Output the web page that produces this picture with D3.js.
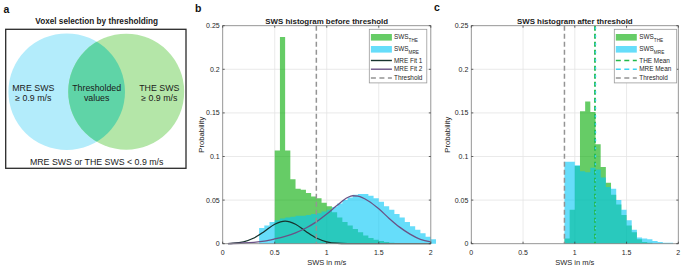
<!DOCTYPE html>
<html><head><meta charset="utf-8">
<script src="https://cdn.jsdelivr.net/npm/d3@7"></script>
<style>body{margin:0;background:#fff}svg{display:block;font-family:"Liberation Sans",Arial,sans-serif}</style>
</head><body><svg id="fig" width="685" height="268"></svg>
<script>
// ---------- data ----------
const binWidth = 0.05;
const threshold = 0.9;
const xTicks = [0, 0.5, 1, 1.5, 2];
const yTicks = [0, 0.05, 0.1, 0.15, 0.2, 0.25];
const xTickLabels = ["0", "0.5", "1", "1.5", "2"];
const yTickLabels = ["0", "0.05", "0.1", "0.15", "0.2", "0.25"];

// panel b: before threshold
const beforeTHEStart = 0.50;
const beforeTHE = [0.107, 0.237, 0.107, 0.074, 0.063, 0.062, 0.058, 0.054, 0.052, 0.047, 0.043,
  0.036, 0.030, 0.025, 0.021, 0.017, 0.013, 0.0095, 0.0065, 0.0045, 0.003, 0.002, 0.001];
const beforeMREStart = 0.35;
const beforeMRE = [0.018, 0.021, 0.025, 0.027, 0.029, 0.030, 0.031, 0.032, 0.032, 0.033, 0.034,
  0.035, 0.037, 0.039, 0.042, 0.046, 0.050, 0.053, 0.056, 0.057, 0.057, 0.055, 0.052, 0.048,
  0.043, 0.039, 0.034, 0.030, 0.025, 0.020, 0.016, 0.012, 0.008, 0.005];
const fit1X = [0.05, 0.1, 0.2, 0.3, 0.4, 0.5, 0.6, 0.7, 0.8, 0.9, 1.0, 1.1, 1.2, 1.3, 1.5, 2.0];
const fit1Y = [0.0002, 0.0005, 0.0022, 0.0065, 0.014, 0.0223, 0.026, 0.0223, 0.014, 0.0065, 0.0022, 0.0005, 0.0001, 0, 0, 0];
const fit2X = [0.05, 0.2, 0.3, 0.4, 0.5, 0.6, 0.7, 0.8, 0.9, 1.0, 1.1, 1.2, 1.25, 1.3, 1.4, 1.5, 1.6, 1.7, 1.8, 1.9, 2.0];
const fit2Y = [0.0002, 0.0008, 0.0016, 0.003, 0.0055, 0.0085, 0.0125, 0.018, 0.025, 0.034, 0.044, 0.053, 0.055, 0.0545, 0.049, 0.040, 0.029, 0.019, 0.011, 0.005, 0.002];

// panel c: after threshold
const afterStart = 0.90;
const afterTHE = [0.006, 0.039, 0.089, 0.152, 0.163, 0.151, 0.114, 0.088, 0.070, 0.056, 0.045,
  0.033, 0.021, 0.013, 0.005, 0.002, 0.001];
const afterMRE = [0.094, 0.094, 0.090, 0.083, 0.082, 0.087, 0.085, 0.076, 0.065, 0.063, 0.050,
  0.039, 0.027, 0.016, 0.007, 0.006, 0.005, 0.003, 0.002, 0.001, 0.001];
const theMean = 1.195;
const mreMean = 1.2;

// ---------- styles ----------
const C = {
  the: "rgb(0,170,0)", mre: "rgb(0,198,247)", alpha: 0.6,
  fit1: "#17332e", fit2: "#6a5286", thr: "#949494",
  theMean: "#22b94a", mreMean: "#3fd2f2",
  axis: "#8a8a8a", tick: "#3c3c3c", grid: "#e4e4e4", text: "#262626"
};

const svg = d3.select("#fig");

// ---------- panel labels ----------
svg.append("text").attr("x", 3.5).attr("y", 12.5).attr("font-size", 10.5).attr("font-weight", "bold").attr("fill", "#111").text("a");
svg.append("text").attr("x", 195).attr("y", 11.5).attr("font-size", 10.5).attr("font-weight", "bold").attr("fill", "#111").text("b");
svg.append("text").attr("x", 434).attr("y", 10.5).attr("font-size", 10.5).attr("font-weight", "bold").attr("fill", "#111").text("c");

// ---------- panel a: Venn ----------
const venn = svg.append("g");
venn.append("text").attr("x", 96.7).attr("y", 23.5).attr("text-anchor", "middle")
  .attr("font-size", 8.2).attr("font-weight", "bold").attr("fill", "#1a1a1a").text("Voxel selection by thresholding");
venn.append("rect").attr("x", 5.7).attr("y", 29.3).attr("width", 180.3).attr("height", 139)
  .attr("fill", "#fff").attr("stroke", "#2a2a2a").attr("stroke-width", 1.3);
const circA = {cx: 66.7, cy: 91.7, r: 58.3};
const circB = {cx: 126.2, cy: 91.7, r: 58};
venn.append("circle").attr("cx", circA.cx).attr("cy", circA.cy).attr("r", circA.r).attr("fill", "#b3ecfb");
venn.append("circle").attr("cx", circB.cx).attr("cy", circB.cy).attr("r", circB.r).attr("fill", "#b4e6a8");
svg.append("defs").append("clipPath").attr("id", "clipA").append("circle")
  .attr("cx", circA.cx).attr("cy", circA.cy).attr("r", circA.r);
venn.append("circle").attr("cx", circB.cx).attr("cy", circB.cy).attr("r", circB.r)
  .attr("fill", "#5fd4a7").attr("clip-path", "url(#clipA)");
const vtxt = [
  ["MRE SWS", 33.3, 91], ["\u2265 0.9 m/s", 33.3, 100.5],
  ["Thresholded", 96.7, 91], ["values", 96.7, 100.5],
  ["THE SWS", 159.3, 91], ["\u2265 0.9 m/s", 159.3, 100.5],
  ["MRE SWS or THE SWS < 0.9 m/s", 96.7, 165]
];
vtxt.forEach(([t, x, y]) => venn.append("text").attr("x", x).attr("y", y).attr("text-anchor", "middle")
  .attr("font-size", 8.8).attr("fill", "#1a1a1a").text(t));

// ---------- histogram panels ----------
function panel(opt) {
  const g = svg.append("g");
  const x = d3.scaleLinear().domain([0, 2]).range([opt.left, opt.right]);
  const y = d3.scaleLinear().domain([0, 0.25]).range([opt.bottom, opt.top]);
  g.selectAll(".gx").data(xTicks.slice(1, -1)).enter().append("line")
    .attr("x1", d => x(d)).attr("x2", d => x(d)).attr("y1", y(0)).attr("y2", y(0.25))
    .attr("stroke", C.grid).attr("stroke-width", 0.8);
  g.selectAll(".gy").data(yTicks.slice(1, -1)).enter().append("line")
    .attr("y1", d => y(d)).attr("y2", d => y(d)).attr("x1", x(0)).attr("x2", x(2))
    .attr("stroke", C.grid).attr("stroke-width", 0.8);

  const area = d3.area().curve(d3.curveStepAfter).x(d => x(d[0])).y0(y(0)).y1(d => y(d[1]));
  function bars(start, vals, color) {
    const pts = vals.map((v, i) => [start + i * binWidth, v]);
    pts.push([start + vals.length * binWidth, vals[vals.length - 1]]);
    g.append("path").attr("d", area(pts)).attr("fill", color).attr("fill-opacity", C.alpha);
  }
  opt.draw(g, x, y, bars);

  g.append("rect").attr("x", x(0)).attr("y", y(0.25)).attr("width", x(2) - x(0)).attr("height", y(0) - y(0.25))
    .attr("fill", "none").attr("stroke", C.axis).attr("stroke-width", 0.9);
  xTicks.forEach(t => {
    g.append("line").attr("x1", x(t)).attr("x2", x(t)).attr("y1", y(0)).attr("y2", y(0) - 2).attr("stroke", C.tick).attr("stroke-width", 0.8);
    g.append("line").attr("x1", x(t)).attr("x2", x(t)).attr("y1", y(0.25)).attr("y2", y(0.25) + 2).attr("stroke", C.tick).attr("stroke-width", 0.8);
  });
  yTicks.forEach(t => {
    g.append("line").attr("y1", y(t)).attr("y2", y(t)).attr("x1", x(0)).attr("x2", x(0) + 2).attr("stroke", C.tick).attr("stroke-width", 0.8);
    g.append("line").attr("y1", y(t)).attr("y2", y(t)).attr("x1", x(2)).attr("x2", x(2) - 2).attr("stroke", C.tick).attr("stroke-width", 0.8);
  });
  xTicks.forEach((t, i) => g.append("text").attr("x", x(t)).attr("y", y(0) + 11).attr("text-anchor", "middle")
    .attr("font-size", 7).attr("fill", C.text).text(xTickLabels[i]));
  yTicks.forEach((t, i) => g.append("text").attr("x", x(0) - 3).attr("y", y(t) + 2.5).attr("text-anchor", "end")
    .attr("font-size", 7).attr("fill", C.text).text(yTickLabels[i]));
  g.append("text").attr("x", (x(0) + x(2)) / 2).attr("y", 264.5).attr("text-anchor", "middle")
    .attr("font-size", 7.5).attr("fill", C.text).text("SWS in m/s");
  g.append("text").attr("transform", `translate(${opt.ylabX},${(y(0) + y(0.25)) / 2}) rotate(-90)`)
    .attr("text-anchor", "middle").attr("font-size", 7.7).attr("fill", C.text).text("Probability");
  g.append("text").attr("x", (x(0) + x(2)) / 2).attr("y", 23.5).attr("text-anchor", "middle")
    .attr("font-size", 7.9).attr("font-weight", "bold").attr("fill", "#1a1a1a").text(opt.title);

  const L = opt.legend;
  g.append("rect").attr("x", L.x0).attr("y", L.y0).attr("width", L.x1 - L.x0).attr("height", L.y1 - L.y0)
    .attr("fill", "#fff").attr("stroke", "#9a9a9a").attr("stroke-width", 0.8);
  L.items.forEach(it => {
    if (it.type === "patch") {
      g.append("rect").attr("x", L.sx).attr("y", it.y - 3.3).attr("width", L.sw).attr("height", 6.6)
        .attr("fill", it.color).attr("fill-opacity", C.alpha);
      const t = g.append("text").attr("x", L.tx).attr("y", it.y + 1.6).attr("font-size", 6.4).attr("fill", C.text);
      t.append("tspan").text("SWS");
      t.append("tspan").attr("font-size", 4.7).attr("dy", 2.8).text(it.sub);
    } else {
      g.append("line").attr("x1", L.sx).attr("x2", L.sx + L.sw).attr("y1", it.y).attr("y2", it.y)
        .attr("stroke", it.color).attr("stroke-width", it.w || 1.4).attr("stroke-dasharray", it.dash || null);
      g.append("text").attr("x", L.tx).attr("y", it.y + 2.2).attr("font-size", 6.4).attr("fill", C.text).text(it.label);
    }
  });
  return g;
}

const line = (x, y) => d3.line().curve(d3.curveMonotoneX).x(d => x(d[0])).y(d => y(d[1]));

panel({
  left: 222.7, right: 430.8, top: 25.7, bottom: 243.7, ylabX: 203.8,
  title: "SWS histogram before threshold",
  draw: (g, x, y, bars) => {
    bars(beforeTHEStart, beforeTHE, C.the);
    bars(beforeMREStart, beforeMRE, C.mre);
    g.append("path").attr("d", line(x, y)(fit1X.map((v, i) => [v, fit1Y[i]])))
      .attr("fill", "none").attr("stroke", C.fit1).attr("stroke-width", 1.3);
    g.append("path").attr("d", line(x, y)(fit2X.map((v, i) => [v, fit2Y[i]])))
      .attr("fill", "none").attr("stroke", C.fit2).attr("stroke-width", 1.3);
    g.append("line").attr("x1", x(threshold)).attr("x2", x(threshold)).attr("y1", y(0.25)).attr("y2", y(0))
      .attr("stroke", C.thr).attr("stroke-width", 1.5).attr("stroke-dasharray", "5,3");
  },
  legend: {
    x0: 369.3, x1: 426.8, y0: 29.3, y1: 82.9, sx: 370.9, sw: 21, tx: 394,
    items: [
      {type: "patch", y: 37.3, color: C.the, sub: "THE"},
      {type: "patch", y: 49.3, color: C.mre, sub: "MRE"},
      {type: "line", y: 60.5, color: C.fit1, label: "MRE Fit 1"},
      {type: "line", y: 69.2, color: C.fit2, label: "MRE Fit 2"},
      {type: "line", y: 78.0, color: C.thr, label: "Threshold", dash: "5,3.5"}
    ]
  }
});

panel({
  left: 471.3, right: 678.3, top: 25.7, bottom: 243.7, ylabX: 449.6,
  title: "SWS histogram after threshold",
  draw: (g, x, y, bars) => {
    bars(afterStart, afterTHE, C.the);
    bars(afterStart, afterMRE, C.mre);
    g.append("line").attr("x1", x(threshold)).attr("x2", x(threshold)).attr("y1", y(0.25)).attr("y2", y(0))
      .attr("stroke", C.thr).attr("stroke-width", 1.5).attr("stroke-dasharray", "5,3");
    g.append("line").attr("x1", x(theMean)).attr("x2", x(theMean)).attr("y1", y(0.25)).attr("y2", y(0))
      .attr("stroke", C.theMean).attr("stroke-width", 1.8).attr("stroke-dasharray", "5,3");
    g.append("line").attr("x1", x(mreMean)).attr("x2", x(mreMean)).attr("y1", y(0.25)).attr("y2", y(0))
      .attr("stroke", C.mreMean).attr("stroke-width", 1.4).attr("stroke-dasharray", "2,6").attr("stroke-dashoffset", -1.5);
  },
  legend: {
    x0: 614.3, x1: 676.7, y0: 29.3, y1: 82.9, sx: 615.8, sw: 21, tx: 639.3,
    items: [
      {type: "patch", y: 37.3, color: C.the, sub: "THE"},
      {type: "patch", y: 49.3, color: C.mre, sub: "MRE"},
      {type: "line", y: 60.5, color: C.theMean, label: "THE Mean", dash: "5,3.5", w: 1.6},
      {type: "line", y: 69.2, color: C.mreMean, label: "MRE Mean", dash: "5,3.5", w: 1.6},
      {type: "line", y: 78.0, color: C.thr, label: "Threshold", dash: "5,3.5"}
    ]
  }
});
</script></body></html>
